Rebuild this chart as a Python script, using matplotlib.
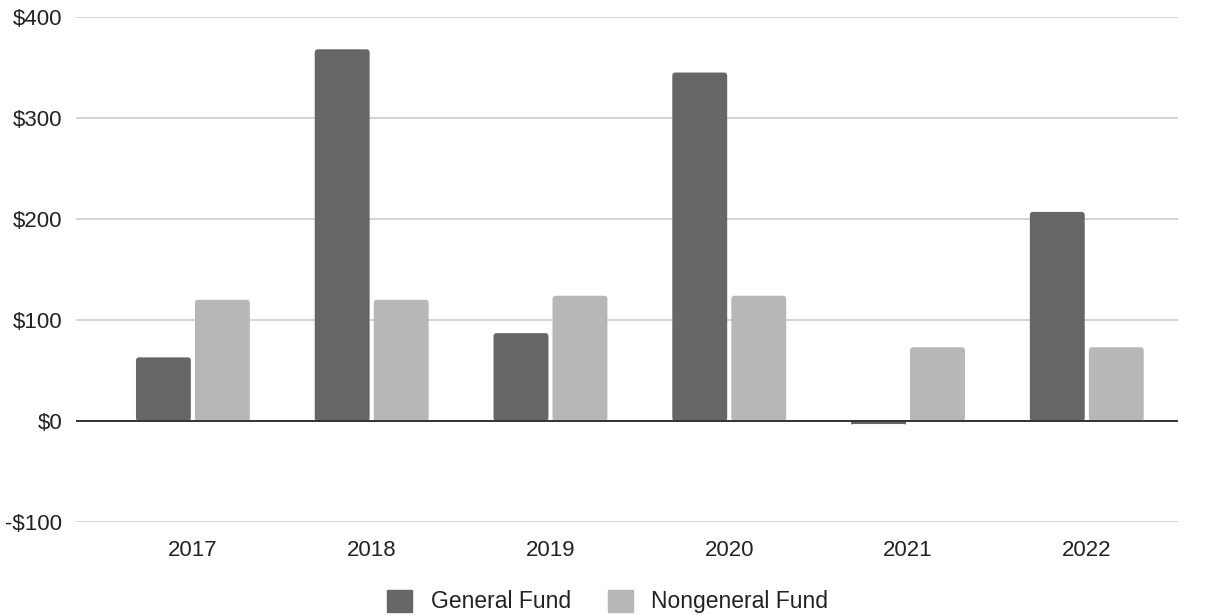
import matplotlib
matplotlib.use("Agg")
import matplotlib.pyplot as plt
import numpy as np
from matplotlib.patches import Patch, FancyBboxPatch

years = ["2017", "2018", "2019", "2020", "2021", "2022"]
general_fund = [63, 368, 87, 345, -3, 207]
nongeneral_fund = [120, 120, 124, 124, 73, 73]

plt.rcParams['font.family'] = ['Liberation Sans', 'DejaVu Sans']

fig = plt.figure(figsize=(12.08, 6.15), dpi=100)
ax = fig.add_axes([0.0629, 0.1512, 0.9121, 0.8212])

x = np.arange(len(years))
w = 0.307
off = 0.165
ax.set_ylim(-100, 400)
ax.set_xlim(-0.654, 5.509)

# rounded tops like the sheets chart: swap each rectangle for a rounded box
px_x = (5.509 + 0.654) / (0.9121 * 1208)
px_y = 500 / (0.8212 * 615)
for vals, col in [(general_fund, "#666666"), (nongeneral_fund, "#b7b7b7")]:
    pos = x - off if col == "#666666" else x + off
    bars = ax.bar(pos, vals, w, color=col, zorder=3)
    for r in bars.patches:
        r.set_visible(False)
        h = r.get_height()
        rad = min(3 * px_x, abs(h) * px_x / px_y / 2)
        fb = FancyBboxPatch((r.get_x(), r.get_y()), r.get_width(), h,
                            boxstyle=f"round,pad=0,rounding_size={rad}",
                            mutation_aspect=px_y / px_x,
                            facecolor=col, edgecolor="none", zorder=3)
        ax.add_patch(fb)

ax.set_yticks([-100, 0, 100, 200, 300, 400])
ax.set_yticklabels(["-$100", "$0", "$100", "$200", "$300", "$400"])
ax.set_xticks(x)
ax.set_xticklabels(years)

ax.yaxis.grid(True, color="#cccccc", linewidth=1.2, zorder=0)
ax.axhline(0, color="#333333", linewidth=1.4, zorder=4)
for s in ax.spines.values():
    s.set_visible(False)
ax.tick_params(axis="both", length=0, labelsize=16, colors="#222222")
ax.tick_params(axis="y", pad=10)
ax.tick_params(axis="x", pad=13)

handles = [Patch(color="#666666"), Patch(color="#b7b7b7")]
fig.legend(handles, ["General Fund", "Nongeneral Fund"], loc="center",
           bbox_to_anchor=(0.503, 0.022), ncol=2, frameon=False, fontsize=16.5,
           handlelength=1.1, handleheight=1.1, columnspacing=1.6, handletextpad=0.8,
           labelcolor="#222222")

fig.savefig("out.png", dpi=100)
